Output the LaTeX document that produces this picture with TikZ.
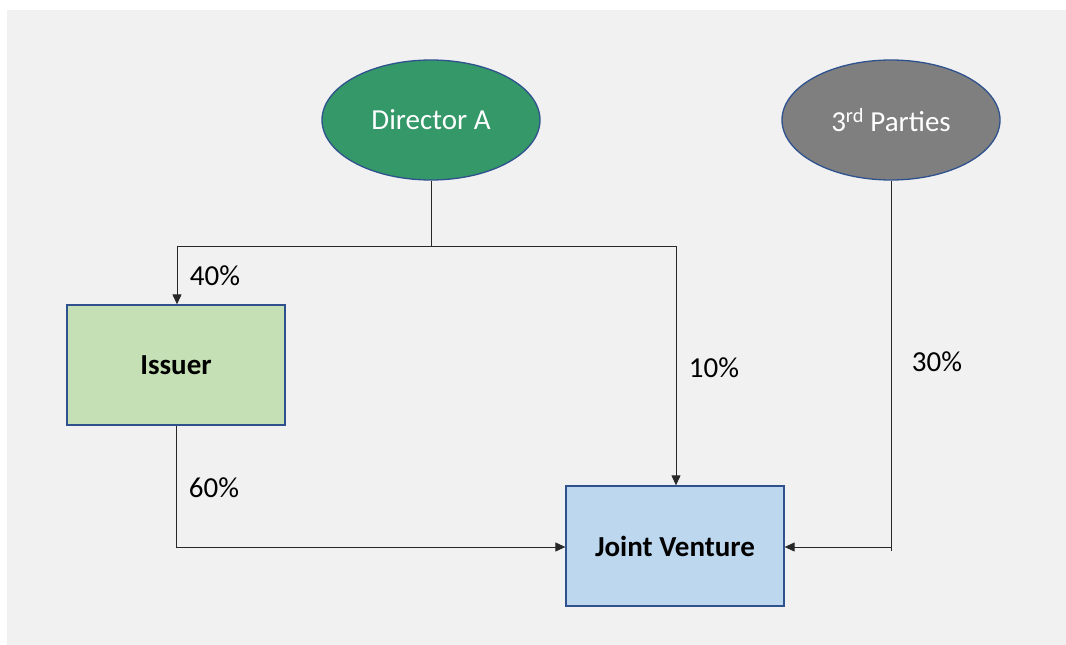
\documentclass[tikz,border=0pt]{standalone}
\usepackage{fontspec}
\setmainfont{Carlito}
\usetikzlibrary{arrows.meta,shapes.geometric}
\definecolor{panel}{RGB}{241,241,241}
\definecolor{edgeblue}{RGB}{47,82,143}
\definecolor{dirgreen}{RGB}{52,152,104}
\definecolor{partygray}{RGB}{127,127,127}
\definecolor{issuergreen}{RGB}{197,224,180}
\definecolor{jvblue}{RGB}{189,215,238}
\definecolor{linec}{RGB}{40,40,40}
\tikzset{
  owner/.style={ellipse, draw=edgeblue, line width=1.3pt, minimum width=218pt, minimum height=120pt, inner sep=0pt, text=white, font=\fontsize{29}{34}\selectfont},
  entity/.style={rectangle, draw=edgeblue, line width=1.3pt, minimum width=218pt, minimum height=120pt, inner sep=0pt, font=\fontsize{29}{34}\selectfont\bfseries},
  link/.style={draw=linec, line width=1pt},
  arr/.style={link, -{Triangle[length=10pt,width=9pt]}},
  pct/.style={font=\fontsize{29}{34}\selectfont, inner sep=0pt}
}
\begin{document}
\begin{tikzpicture}[x=1pt,y=-1pt]
\useasboundingbox (0,0) rectangle (1066,645);
\fill[white] (0,0) rectangle (1066,645);
\fill[panel] (7,10) rectangle (1066,645);

\node[owner, fill=dirgreen] (dira) at (431,120) {Director A};
\node[owner, fill=partygray] (tp) at (891,120) {3\textsuperscript{rd} Parties};
\node[entity, fill=issuergreen] (issuer) at (176,365) {Issuer};
\node[entity, fill=jvblue] (jv) at (675,546) {Joint Venture};

\coordinate (j1) at (431,246);
\coordinate (jl) at (177,246);
\coordinate (jr) at (676,246);
\coordinate (tpend) at (891,551);

\draw[link] (dira.south) -- (j1);
\draw[link] (jl) -- (jr);
\draw[arr] (jl) -- (jl |- issuer.north);
\draw[arr] (jr) -- (jr |- jv.north);
\draw[arr] (issuer.south) -- (issuer.south |- 0,547) -- (jv.west |- 0,547);
\draw[link] (tp.south) -- (tpend);
\draw[arr] (tp.south |- 0,547) -- (jv.east |- 0,547);

\node[pct] (p40) at (215,276) {40\%};
\node[pct] (p10) at (714,368) {10\%};
\node[pct] (p30) at (937,362) {30\%};
\node[pct] (p60) at (214,488) {60\%};
\end{tikzpicture}
\end{document}
